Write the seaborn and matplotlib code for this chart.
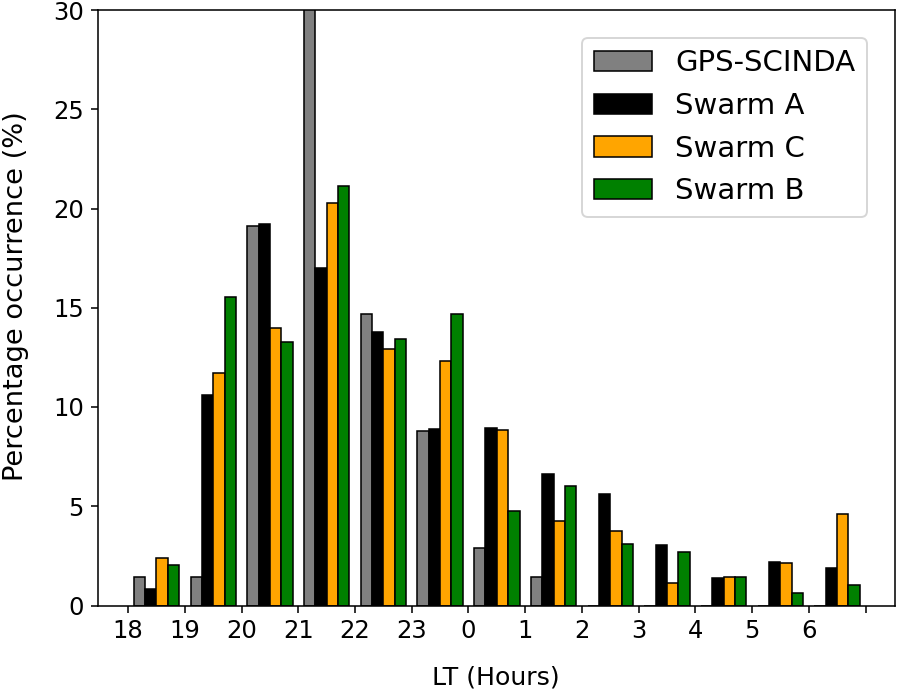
import numpy as np
import pandas as pd
import seaborn as sns
import matplotlib
matplotlib.use('Agg')
import matplotlib.pyplot as plt

# local time bins (hours)
hours = ['18', '19', '20', '21', '22', '23', '0', '1', '2', '3', '4', '5', '6']

# percentage occurrence per source
gps_scinda = [1.45, 1.45, 19.1, 31.5, 14.7, 8.8, 2.9, 1.45, 0, 0, 0, 0, 0]
swarm_a = [0.85, 10.6, 19.2, 17.0, 13.8, 8.9, 8.95, 6.6, 5.6, 3.05, 1.4, 2.2, 1.9]
swarm_c = [2.4, 11.7, 14.0, 20.3, 12.9, 12.3, 8.85, 4.25, 3.75, 1.15, 1.45, 2.15, 4.6]
swarm_b = [2.05, 15.55, 13.25, 21.15, 13.45, 14.7, 4.75, 6.0, 3.1, 2.7, 1.45, 0.65, 1.05]

sources = ['GPS-SCINDA', 'Swarm A', 'Swarm C', 'Swarm B']
colors = ['grey', 'black', 'orange', 'green']
tick_labels = hours + ['']

series = [gps_scinda, swarm_a, swarm_c, swarm_b]
df = pd.DataFrame({
    'LT': hours * len(sources),
    'pct': np.concatenate(series),
    'source': np.repeat(sources, len(hours)),
})

fig = plt.figure(figsize=(898 / 140, 691 / 140), dpi=140)
ax = fig.add_axes([97.5 / 898, 1 - 605.5 / 691, (895 - 97.5) / 898, (605.5 - 10) / 691])

sns.barplot(data=df, x='LT', y='pct', hue='source', order=hours,
            hue_order=sources, palette=dict(zip(sources, colors)),
            saturation=1, errorbar=None, edgecolor='black', linewidth=0.8,
            ax=ax)

# ticks sit between the groups of bars
ax.set_xticks(np.arange(len(tick_labels)) - 0.5)
ax.set_xticklabels(tick_labels, fontsize=12.5)
ax.set_xlim(-1.04, 13.02)
ax.set_ylim(0, 30)
ax.set_yticks([0, 5, 10, 15, 20, 25, 30])
ax.tick_params(axis='y', labelsize=12.5)
ax.set_xlabel('LT (Hours)', fontsize=13)
ax.set_ylabel('Percentage occurrence (%)', fontsize=14)
ax.xaxis.set_label_coords(0.5, -0.100)
ax.yaxis.set_label_coords(-0.086, 0.52)

handles, labels = ax.get_legend_handles_labels()
ax.legend(handles, labels, loc='upper right', fontsize=15, borderaxespad=0.95)

fig.savefig('out.png', dpi=140)
